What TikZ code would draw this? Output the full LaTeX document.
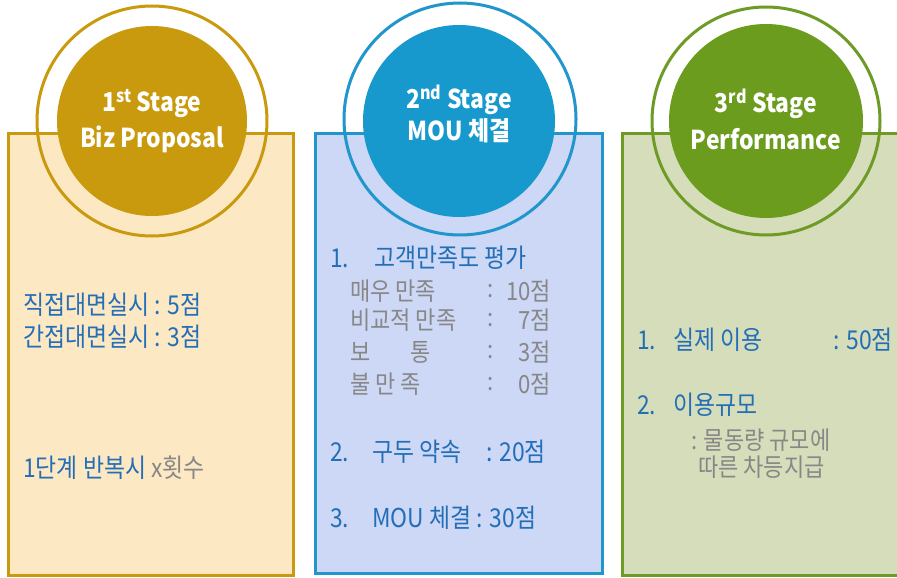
\documentclass[tikz,border=0pt]{standalone}
\usepackage{fontspec}
\setmainfont{Noto Sans CJK KR}
\newfontfamily\condfont[FakeStretch=0.88]{Noto Sans CJK KR}
\definecolor{goldD}{RGB}{201,154,14}
\definecolor{goldL}{RGB}{253,232,196}
\definecolor{blueD}{RGB}{24,153,206}
\definecolor{blueB}{RGB}{33,150,204}
\definecolor{blueL}{RGB}{204,216,246}
\definecolor{greenD}{RGB}{107,156,30}
\definecolor{greenB}{RGB}{110,155,38}
\definecolor{greenL}{RGB}{214,221,187}
\definecolor{txtblue}{RGB}{36,110,183}
\definecolor{txtgray}{RGB}{135,135,135}
\tikzset{
  panel/.style={draw=#1, line width=3pt},
  ringline/.style={draw=#1, line width=3pt},
  title/.style={text=white, font=\condfont\fontsize{26}{26}\selectfont\bfseries, inner sep=0pt},
  bt/.style={text=txtblue, font=\condfont\fontsize{26}{26}\selectfont, inner sep=0pt, anchor=west},
  gt/.style={text=txtgray, font=\condfont\fontsize{25}{25}\selectfont, inner sep=0pt, anchor=west},
}
\begin{document}
\begin{tikzpicture}[x=1pt,y=-1pt]
\useasboundingbox (0,0) rectangle (897,578);
\fill[white] (0,0) rectangle (897,578);
% panel 1
\path[panel=goldD, fill=goldL] (8,133) rectangle (293,575);
\path[ringline=goldD] (152,121) circle (115);
\fill[goldD] (152,121) circle (95);
\node[title] (t1a) at (152,104) {1\textsuperscript{st} Stage};
\node[title] (t1b) at (152,139) {Biz Proposal};
\node[bt] (p1a) at (23,305) {직접대면실시 : 5점};
\node[bt] (p1b) at (23,337) {간접대면실시 : 3점};
\node[bt] (p1c) at (23,468) {1단계 반복시 \textcolor{txtgray}{x횟수}};
% panel 2
\path[panel=blueB, fill=blueL] (315,133) rectangle (602,573);
\path[ringline=blueB] (460,119) circle (116);
\fill[blueD] (459,121) circle (96);
\node[title] (t2a) at (459,100) {2\textsuperscript{nd} Stage};
\node[title] (t2b) at (459,131) {MOU 체결};
\node[bt] (q1n) at (330,258) {1.};
\node[bt] (q1) at (374,258) {고객만족도 평가};
\node[gt] (g1) at (350,291) {매우 만족};
\node[gt] (g2) at (350,320) {비교적 만족};
\node[gt] (g3) at (350,352) {보};
\node[gt] (g3b) at (410,352) {통};
\node[gt] (g4) at (350,384) {불 만 족};
\foreach \yy/\vv/\nm in {291/10점/a,320/7점/b,352/3점/c,384/0점/d}{
  \node[gt] (c\nm) at (487,\yy) {:};
  \node[gt, anchor=east] (v\nm) at (551,\yy) {\vv};
}
\node[bt] (q2n) at (330,452) {2.};
\node[bt] (q2) at (372,452) {구두 약속};
\node[bt] (q2v) at (486,452) {: 20점};
\node[bt] (q3n) at (330,518) {3.};
\node[bt] (q3) at (372,518) {MOU 체결 : 30점};
% panel 3
\path[panel=greenB, fill=greenL] (622,133) rectangle (910,575);
\path[ringline=greenB] (766,121) circle (114);
\fill[greenD] (766,121) circle (97);
\node[title] (t3a) at (766,104) {3\textsuperscript{rd} Stage};
\node[title] (t3b) at (766,139) {Performance};
\node[bt] (r1n) at (637,340) {1.};
\node[bt] (r1) at (673,340) {실제 이용};
\node[bt] (r1v) at (833,340) {: 50점};
\node[bt] (r2n) at (637,405) {2.};
\node[bt] (r2) at (673,405) {이용규모};
\node[gt] (r2a) at (691,440) {: 물동량 규모에};
\node[gt] (r2b) at (698,467) {따른 차등지급};
\end{tikzpicture}
\end{document}
